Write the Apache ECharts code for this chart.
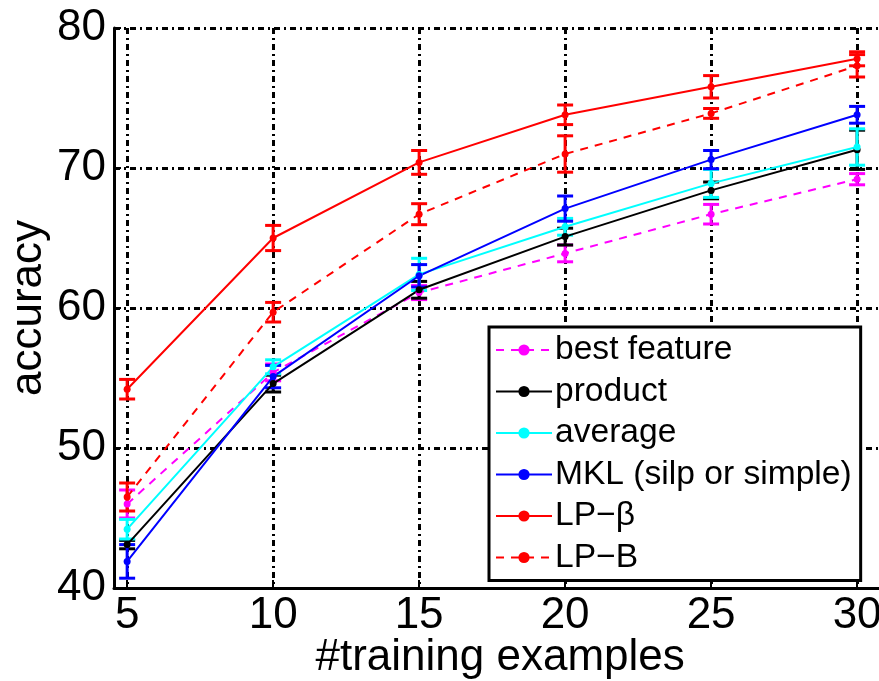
<!DOCTYPE html>
<html>
<head>
<meta charset="utf-8">
<script src="https://cdn.jsdelivr.net/npm/echarts@6/dist/echarts.min.js"></script>
<style>
  html, body { margin: 0; padding: 0; background: #fff; }
  #chart { width: 879px; height: 681px; }
</style>
</head>
<body>
<div id="chart"></div>
<script>
// Training-set sizes on the x axis
const trainingSizes = [5, 10, 15, 20, 25, 30];
const xTicks = [5, 10, 15, 20, 25, 30];

// Mean accuracy and error-bar half widths for each method
const bestFeature    = [46.0, 55.4, 61.1, 63.9, 66.7, 69.2];
const bestFeatureErr = [1.0, 0.6, 0.5, 0.6, 0.7, 0.4];
const product        = [43.1, 54.6, 61.3, 65.1, 68.4, 71.3];
const productErr     = [0.3, 0.6, 0.6, 0.6, 0.6, 1.4];
const average        = [44.2, 55.8, 62.4, 65.8, 68.9, 71.5];
const averageErr     = [0.7, 0.5, 1.15, 0.6, 1.0, 1.3];
const mkl            = [41.9, 55.1, 62.3, 67.1, 70.6, 73.8];
const mklErr         = [1.2, 0.8, 0.8, 0.9, 0.65, 0.6];
const lpBeta         = [54.2, 65.0, 70.4, 73.8, 75.8, 77.8];
const lpBetaErr      = [0.7, 0.9, 0.85, 0.7, 0.8, 0.5];
const lpB            = [46.5, 59.7, 66.7, 71.0, 73.9, 77.3];
const lpBErr         = [1.0, 0.7, 0.75, 1.3, 0.35, 0.8];

const methods = [
  { name: 'best feature',          values: bestFeature, errs: bestFeatureErr, color: '#ff00ff', dashed: true },
  { name: 'product',               values: product,     errs: productErr,     color: '#000000', dashed: false },
  { name: 'average',               values: average,     errs: averageErr,     color: '#00ffff', dashed: false },
  { name: 'MKL (silp or simple)',  values: mkl,         errs: mklErr,         color: '#0000ff', dashed: false },
  { name: 'LP\u2212\u03b2',        values: lpBeta,      errs: lpBetaErr,      color: '#ff0000', dashed: false },
  { name: 'LP\u2212B',             values: lpB,         errs: lpBErr,         color: '#ff0000', dashed: true }
];

const FONT = '"Liberation Sans", Arial, Helvetica, sans-serif';
const gridDash = [6, 4, 2, 4];

function errorBarSeries(m) {
  return {
    type: 'custom',
    name: m.name + ' err',
    silent: true,
    z: 3,
    data: trainingSizes.map((x, i) => [x, m.values[i], m.errs[i]]),
    renderItem: function (params, api) {
      const x = api.value(0), v = api.value(1), e = api.value(2);
      const top = api.coord([x, v + e]);
      const bot = api.coord([x, v - e]);
      const hw = 8;
      const style = { stroke: m.color, lineWidth: 3 };
      return {
        type: 'group',
        children: [
          { type: 'line', shape: { x1: top[0], y1: top[1], x2: bot[0], y2: bot[1] }, style: style },
          { type: 'line', shape: { x1: top[0] - hw, y1: top[1], x2: top[0] + hw, y2: top[1] }, style: style },
          { type: 'line', shape: { x1: bot[0] - hw, y1: bot[1], x2: bot[0] + hw, y2: bot[1] }, style: style }
        ]
      };
    }
  };
}

const series = [];
methods.forEach(m => {
  series.push({
    type: 'line',
    name: m.name,
    data: trainingSizes.map((x, i) => [x, m.values[i]]),
    symbol: 'circle',
    symbolSize: 7,
    z: 4,
    itemStyle: { color: m.color },
    lineStyle: { color: m.color, width: 2, type: m.dashed ? [8, 7] : 'solid' },
    emphasis: { disabled: true },
    animation: false
  });
  series.push(errorBarSeries(m));
});

const chart = echarts.init(document.getElementById('chart'), null, { renderer: 'canvas' });
chart.setOption({
  animation: false,
  backgroundColor: '#ffffff',
  grid: { left: 114, top: 28, width: 772.3, height: 560, containLabel: false, outerBoundsMode: 'none' },
  xAxis: {
    type: 'value',
    min: 4.55,
    max: 31,
    name: '#training examples',
    nameLocation: 'middle',
    nameGap: 48,
    nameMoveOverlap: false,
    nameTextStyle: { fontFamily: FONT, fontSize: 44, color: '#000' },
    axisLine: { lineStyle: { color: '#000', width: 3 } },
    axisTick: { show: true, inside: true, length: 8, customValues: xTicks, lineStyle: { color: '#000', width: 2 } },
    axisLabel: { customValues: xTicks, fontFamily: FONT, fontSize: 44, color: '#000', margin: 6 },
    splitLine: { show: true, lineStyle: { color: '#000', width: 3, type: gridDash } }
  },
  yAxis: {
    type: 'value',
    min: 40,
    max: 80,
    interval: 10,
    name: 'accuracy',
    nameLocation: 'middle',
    nameGap: 63,
    nameRotate: 90,
    nameMoveOverlap: false,
    nameTextStyle: { fontFamily: FONT, fontSize: 44, color: '#000' },
    axisLine: { show: true, lineStyle: { color: '#000', width: 3 } },
    axisTick: { show: true, inside: true, length: 7, lineStyle: { color: '#000', width: 2 } },
    axisLabel: { fontFamily: FONT, fontSize: 44, color: '#000', margin: 8 },
    splitLine: { show: true, lineStyle: { color: '#000', width: 3, type: gridDash } }
  },
  legend: {
    data: methods.map(m => m.name),
    orient: 'vertical',
    left: 489,
    top: 327,
    itemWidth: 56,
    itemHeight: 14,
    itemGap: 7.5,
    padding: [6, 9, 6, 6],
    backgroundColor: '#ffffff',
    borderColor: '#000',
    borderWidth: 3,
    borderRadius: 0,
    selectedMode: false,
    textStyle: { fontFamily: FONT, fontSize: 33.6, color: '#000', lineHeight: 34, padding: [0, 0, 0, -2] }
  },
  series: series
});
</script>
</body>
</html>
